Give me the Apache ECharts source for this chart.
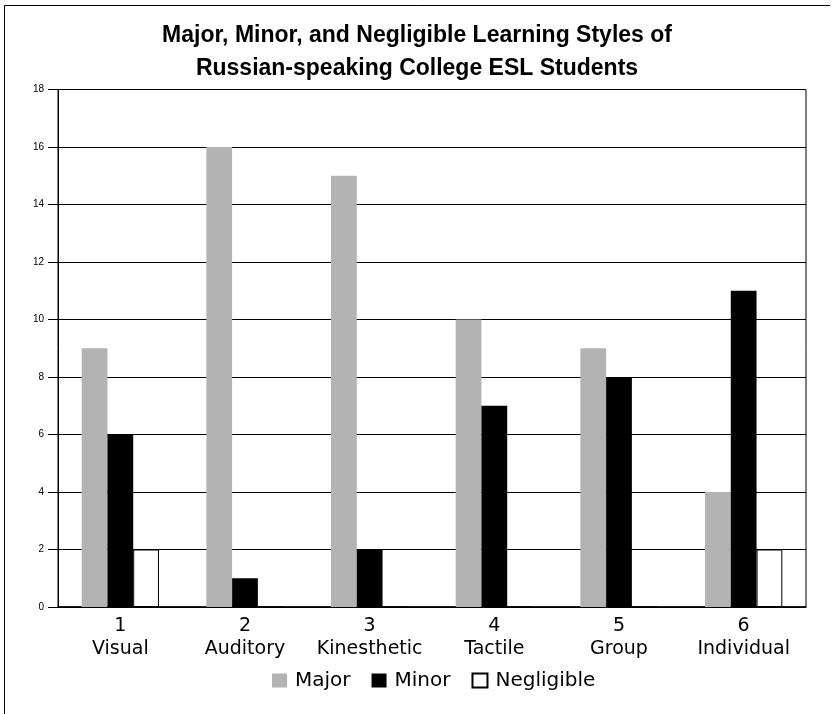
<!DOCTYPE html>
<html>
<head>
<meta charset="utf-8">
<script src="https://cdn.jsdelivr.net/npm/echarts@6/dist/echarts.min.js"></script>
<style>html,body{margin:0;padding:0;background:#fff;}#c{width:834px;height:714px;}</style>
</head>
<body>
<div id="c"></div>
<script>
var categories = ['1\nVisual', '2\nAuditory', '3\nKinesthetic', '4\nTactile', '5\nGroup', '6\nIndividual'];
var majorValues = [9, 16, 15, 10, 9, 4];
var minorValues = [6, 1, 2, 7, 8, 11];
var negligibleValues = [2, 0, 0, 0, 0, 2];
var yTicks = [0, 2, 4, 6, 8, 10, 12, 14, 16, 18];

var chart = echarts.init(document.getElementById('c'));
chart.setOption({
  backgroundColor: '#fff',
  animation: false,
  title: {
    text: 'Major, Minor, and Negligible Learning Styles of\nRussian-speaking College ESL Students',
    left: 'center',
    top: 14,
    textStyle: {
      fontFamily: '"Liberation Sans", Arial, sans-serif',
      fontWeight: 'bold',
      fontSize: 23,
      lineHeight: 33,
      color: '#000'
    }
  },
  graphic: [
    { type: 'line', shape: { x1: 4.5, y1: 5.5, x2: 830, y2: 5.5 }, style: { stroke: '#000', lineWidth: 1 } },
    { type: 'line', shape: { x1: 4.5, y1: 5.5, x2: 4.5, y2: 714 }, style: { stroke: '#000', lineWidth: 1 } }
  ],
  legend: {
    top: 664,
    left: 267,
    itemWidth: 15,
    itemHeight: 14,
    itemGap: 21,
    icon: 'rect',
    textStyle: { fontFamily: '"DejaVu Sans", sans-serif', fontSize: 20, lineHeight: 23, color: '#000', padding: [0, 0, 0, 3] },
    data: ['Major', 'Minor', 'Negligible']
  },
  grid: {
    left: 58, right: 28, top: 89.5, bottom: 107,
    show: true, borderColor: '#000', borderWidth: 1, backgroundColor: 'transparent'
  },
  xAxis: {
    type: 'category',
    data: categories,
    axisLine: { lineStyle: { color: '#000', width: 1.5 } },
    axisTick: { inside: true, length: 9, lineStyle: { color: '#000' } },
    axisLabel: {
      fontFamily: '"DejaVu Sans", sans-serif', fontSize: 19, color: '#000',
      lineHeight: 23, margin: 8, interval: 0
    }
  },
  yAxis: {
    type: 'value',
    min: yTicks[0],
    max: yTicks[yTicks.length - 1],
    interval: 2,
    axisLine: { show: true, lineStyle: { color: '#000', width: 1 } },
    axisTick: { show: true, length: 10, lineStyle: { color: '#000' } },
    axisLabel: { fontFamily: '"Liberation Sans", Arial, sans-serif', fontSize: 10, color: '#000', margin: 14 },
    splitLine: { show: true, lineStyle: { color: '#000', width: 1 } }
  },
  series: [
    { name: 'Major', type: 'bar', data: majorValues, barGap: '0%', barCategoryGap: '38%',
      itemStyle: { color: '#b3b3b3' } },
    { name: 'Minor', type: 'bar', data: minorValues, barGap: '0%', barCategoryGap: '38%',
      itemStyle: { color: '#000' } },
    { name: 'Negligible', type: 'bar', data: negligibleValues, barGap: '0%', barCategoryGap: '38%',
      itemStyle: { color: '#fff', borderColor: '#000', borderWidth: 1 } }
  ]
});
</script>
</body>
</html>
